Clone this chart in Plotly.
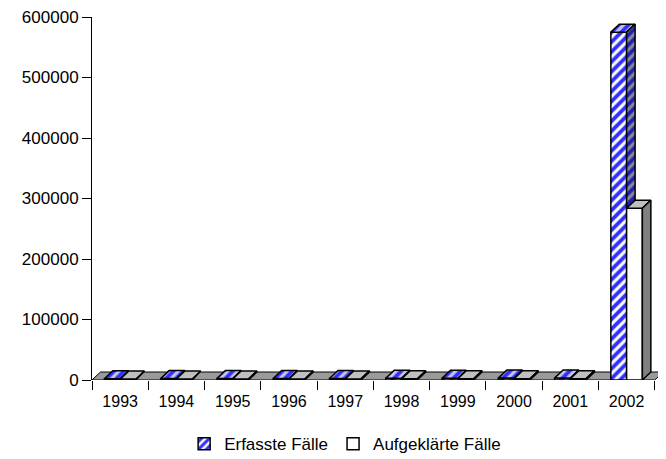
import plotly.graph_objects as go

years = ["1993", "1994", "1995", "1996", "1997", "1998", "1999", "2000", "2001", "2002"]
erfasste = [2100, 2300, 2500, 2400, 2600, 2800, 2900, 3100, 3300, 575000]
aufgeklaerte = [1500, 1600, 1700, 1700, 1800, 1900, 2000, 2100, 2200, 284000]
y_ticks = [0, 100000, 200000, 300000, 400000, 500000, 600000]

# the page body has an 8px margin, so the figure is 8px smaller each way
W, H = 658, 451
L, R, T, B = 84, 0, 9, 79
XMIN, XMAX = -0.5, 9.7
YMAX = 600000
GAP = 0.44

BLUE = "#3030ff"
FONT = "Liberation Sans, Arial, sans-serif"

# depth of the fake 3D boxes, in pixels -> data units
px_x = (W - L - R) / (XMAX - XMIN)
px_y = (H - T - B) / YMAX
DX = 8.5 / px_x
DY = 8.0 / px_y

xs = list(range(len(years)))
bw = (1 - GAP) / 2

stripes = dict(shape="/", fgcolor=BLUE, bgcolor="white", fgopacity=1, size=7, solidity=0.55)

fig = go.Figure()

# front faces
fig.add_trace(go.Bar(
    x=xs, y=erfasste, name="Erfasste Fälle",
    marker=dict(color=BLUE, line=dict(color="black", width=1.5), pattern=stripes),
))
fig.add_trace(go.Bar(
    x=xs, y=aufgeklaerte, name="Aufgeklärte Fälle",
    marker=dict(color="white", line=dict(color="black", width=1.5)),
))


def faces(vals, left_off, base_vals=None):
    tx, ty, sx, sy = [], [], [], []
    for i, h in enumerate(vals):
        xl = i + left_off
        xr = xl + bw
        b = 0 if base_vals is None else min(h, base_vals[i])
        tx += [xl, xr, xr + DX, xl + DX, xl, None]
        ty += [h, h, h + DY, h + DY, h, None]
        sx += [xr, xr + DX, xr + DX, xr, xr, None]
        sy += [b, b + DY, h + DY, h, b, None]
    return tx, ty, sx, sy


def poly(x, y, fill, pattern=None):
    return go.Scatter(x=x, y=y, mode="lines", fill="toself", fillcolor=fill,
                      fillpattern=pattern, line=dict(color="black", width=1.5),
                      showlegend=False, hoverinfo="skip")


etx, ety, esx, esy = faces(erfasste, -bw, aufgeklaerte)
atx, aty, asx, asy = faces(aufgeklaerte, 0)

fig.add_trace(poly(etx, ety, "white",
                   dict(shape="/", fgcolor=BLUE, bgcolor="#c8c8e8", fgopacity=1, size=7, solidity=0.55)))
fig.add_trace(poly(esx, esy, "#808080",
                   dict(shape="/", fgcolor="#2020b0", bgcolor="#8a8a96", fgopacity=1, size=7, solidity=0.55)))
fig.add_trace(poly(atx, aty, "#c0c0c0"))
fig.add_trace(poly(asx, asy, "#808080"))

# floor
x0, x1 = -0.5, len(years) - 0.5
fig.add_shape(type="path", layer="below", xref="x", yref="y",
              path=f"M {x0},0 L {x1},0 L {x1 + DX},{DY} L {x0 + DX},{DY} Z",
              fillcolor="#9a9a9a", line=dict(color="black", width=1))

fig.update_layout(
    width=W, height=H,
    margin=dict(l=L, r=R, t=T, b=B, autoexpand=False),
    paper_bgcolor="white", plot_bgcolor="white",
    barmode="group", bargap=GAP, bargroupgap=0,
    font=dict(family=FONT, size=16, color="black"),
    hovermode=False,
    legend=dict(orientation="h", x=0.441, xanchor="center",
                yref="container", y=0.033, yanchor="middle",
                font=dict(size=17), bgcolor="rgba(0,0,0,0)",
                itemwidth=30, tracegroupgap=0),
)
fig.update_xaxes(
    range=[XMIN, XMAX], tickvals=xs, ticktext=years,
    ticks="outside", ticklen=7, tickcolor="rgba(0,0,0,0)",
    showline=False, showgrid=False, zeroline=False, automargin=False,
    minor=dict(tickmode="linear", tick0=-0.5, dtick=1, ticks="outside",
               ticklen=9, tickcolor="black", showgrid=False),
    tickfont=dict(size=16),
)
fig.update_yaxes(
    range=[0, YMAX], tickvals=y_ticks, tickformat="d",
    ticks="outside", ticklen=9, tickcolor="black",
    showline=True, linecolor="black", linewidth=1,
    showgrid=False, zeroline=False, automargin=False,
    ticklabeloverflow="allow",
    tickfont=dict(size=17),
)

fig.write_html("out.html")
